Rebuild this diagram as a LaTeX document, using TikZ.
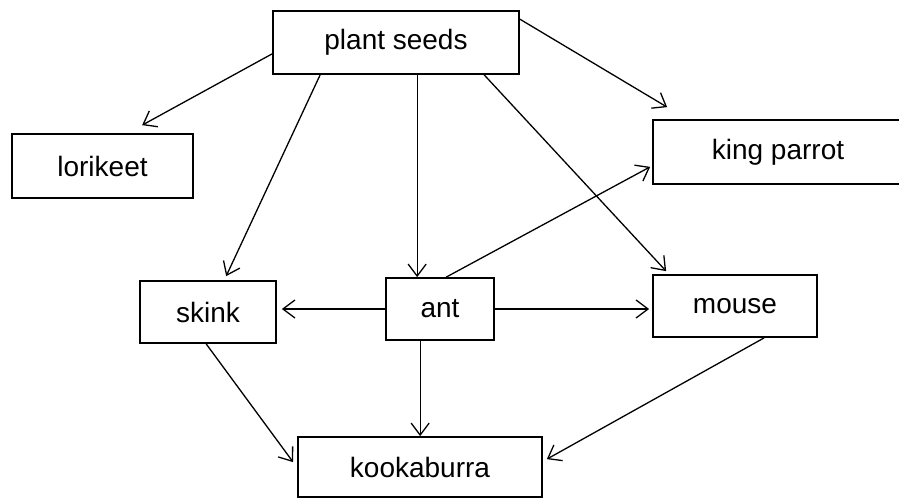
\documentclass[tikz,border=0pt]{standalone}
\usepackage{fontspec}
\setmainfont{Liberation Sans}
\usetikzlibrary{arrows.meta}
\begin{document}
\begin{tikzpicture}[x=1pt,y=-1pt,
  box/.style={draw=black, line width=1.7pt, rectangle, inner sep=0pt,
    font=\fontsize{28}{32}\selectfont},
  arr/.style={draw=black, line width=1.3pt,
    -{Straight Barb[length=12pt,width=18pt,line width=1.3pt]}}]
\useasboundingbox[fill=white] (0,0) rectangle (899,500);

% organisms in the food web
\node[box, minimum width=246pt, minimum height=63pt] (seeds) at (396,42.5) {plant seeds};
\node[box, minimum width=181pt, minimum height=64pt] (lorikeet) at (102.5,166) {lorikeet};
\node[box, minimum width=250pt, minimum height=64pt] (parrot) at (778,152) {king parrot};
\node[box, minimum width=136pt, minimum height=62pt] (skink) at (208,312) {skink};
\node[box, minimum width=108pt, minimum height=62pt] (ant) at (440,309) {ant};
\node[box, minimum width=164pt, minimum height=62pt] (mouse) at (735,306) {mouse};
\node[box, minimum width=244pt, minimum height=60pt] (kook) at (420,467) {kookaburra};

% feeding links
\draw[arr] ([yshift=21pt]seeds.south west) -- ([xshift=131pt,yshift=8pt]lorikeet.north west);
\draw[arr] ([yshift=-9pt]seeds.north east) -- ([xshift=15pt,yshift=12pt]parrot.north west);
\draw[arr] ([xshift=48pt]seeds.south west) -- ([xshift=87pt,yshift=4pt]skink.north west);
\draw[arr] ([xshift=145pt]seeds.south west) -- ([xshift=32pt]ant.north west);
\draw[arr] ([xshift=212pt]seeds.south west) -- ([xshift=14pt,yshift=3pt]mouse.north west);
\draw[arr] ([xshift=61pt]ant.north west) -- ([xshift=-2pt,yshift=18pt]parrot.south west);
\draw[arr, shorten >=5pt] (ant.west) -- (ant.west -| skink.east);
\draw[arr, shorten >=3pt] (ant.east) -- (ant.east -| mouse.west);
\draw[arr] ([xshift=35pt]ant.south west) -- ([xshift=123pt]kook.north west);
\draw[arr] ([xshift=67pt]skink.south west) -- ([xshift=-4pt,yshift=-26pt]kook.north west);
\draw[arr] ([xshift=112pt]mouse.south west) -- ([xshift=4pt,yshift=-23pt]kook.north east);
\end{tikzpicture}
\end{document}
